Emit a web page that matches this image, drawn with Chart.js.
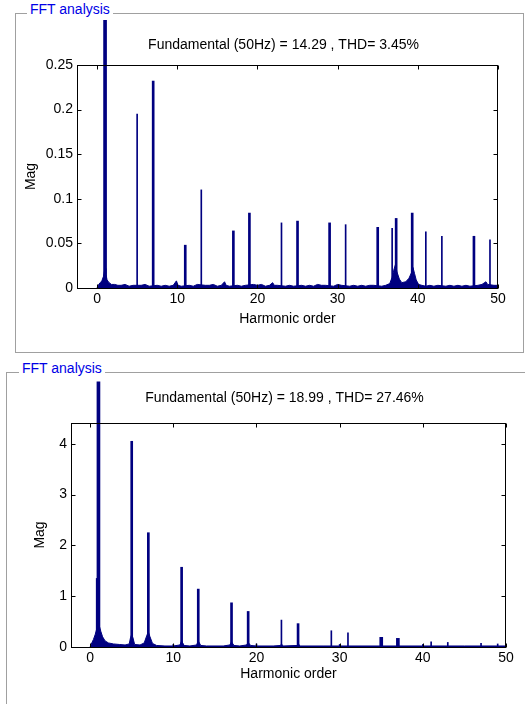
<!DOCTYPE html>
<html>
<head>
<meta charset="utf-8">
<script src="https://cdn.jsdelivr.net/npm/chart.js@4.4.0/dist/chart.umd.min.js"></script>
<style>
  html, body { margin: 0; padding: 0; background: #fff; width: 525px; height: 704px; overflow: hidden; position: relative; font-family: 'Liberation Sans', Arial, sans-serif; }
  .box { position: absolute; border: 1px solid #a0a0a0; box-sizing: border-box; }
  .lbl { position: absolute; background: #fff; color: #0000e6; font-size: 14px; line-height: 16px; padding: 0 3px; white-space: nowrap; }
  .wrap { position: absolute; }
</style>
</head>
<body>
<div class="box" style="left:15px;top:13px;width:509px;height:340px"></div>
<div class="lbl" style="left:27px;top:1px">FFT analysis</div>
<div class="box" style="left:6px;top:372px;width:600px;height:400px"></div>
<div class="lbl" style="left:19px;top:360px">FFT analysis</div>
<div class="wrap" style="left:16px;top:14px;width:505px;height:337px"><canvas id="c1"></canvas></div>
<div class="wrap" style="left:7px;top:373px;width:518px;height:331px"><canvas id="c2"></canvas></div>
<script>
  const NAVY = '#000080';
  const xTicks = [0, 10, 20, 30, 40, 50];

  // ---- upper panel (THD 3.45%) ----
  const title1 = 'Fundamental (50Hz) = 14.29 , THD= 3.45%';
  const yTicks1 = [0, 0.05, 0.1, 0.15, 0.2, 0.25];
  const fund1 = 0.30;
  const thickOrder1 = [7, 11, 17, 19, 25, 29, 35, 37.3, 39.3, 47];
  const thickMag1 = [0.232, 0.048, 0.064, 0.084, 0.075, 0.073, 0.068, 0.078, 0.084, 0.058];
  const thinOrder1 = [5, 13, 23, 31, 36.8, 41, 43, 49];
  const thinMag1 = [0.195, 0.110, 0.073, 0.071, 0.067, 0.063, 0.058, 0.054];
  const floorOrder1 = [0, 0.2, 0.4, 0.6, 0.8, 0.9, 1.0, 1.1, 1.25, 1.5, 1.8, 2.2, 2.6, 3.0, 3.5, 4.0, 4.5, 5.5, 6.0, 6.5,
    7.5, 8.0, 8.5, 9.0, 9.5, 9.9, 10.1, 10.5, 11.5, 12.0, 12.5, 13.5, 14.0, 14.5, 15.0, 15.5, 15.9, 16.1, 16.5,
    17.5, 18.0, 18.5, 19.5, 20.0, 20.5, 21.0, 21.5, 21.9, 22.1, 22.5, 23.5, 24.0, 24.5, 25.5, 26.0, 26.5, 27.0,
    27.5, 28.0, 28.5, 29.5, 30.0, 30.5, 31.5, 32.0, 32.5, 33.0, 33.5, 34.0, 34.5, 35.5, 36.0, 36.5, 36.8, 37.0,
    37.2, 37.4, 37.7, 38.0, 38.5, 38.9, 39.2, 39.4, 39.6, 39.8, 40.1, 40.5, 41.0, 41.5, 42.0, 42.5, 43.5, 44.0,
    44.5, 45.0, 45.5, 46.0, 46.5, 47.5, 48.0, 48.5, 48.7, 49.5, 50.0];
  const floorMag1 = [0, 0.004, 0.006, 0.008, 0.013, 0.018, 0.022, 0.016, 0.009, 0.006, 0.004, 0.004, 0.003, 0.003, 0.004, 0.002, 0.003, 0.003, 0.004, 0.002,
    0.003, 0.002, 0.003, 0.002, 0.003, 0.008, 0.003, 0.002, 0.003, 0.002, 0.004, 0.003, 0.003, 0.004, 0.002, 0.003, 0.007, 0.003, 0.002,
    0.003, 0.002, 0.003, 0.004, 0.003, 0.004, 0.002, 0.003, 0.006, 0.003, 0.003, 0.002, 0.003, 0.002, 0.003, 0.002, 0.003, 0.002,
    0.004, 0.003, 0.003, 0.002, 0.004, 0.003, 0.002, 0.003, 0.002, 0.003, 0.002, 0.003, 0.003, 0.002, 0.003, 0.005, 0.012, 0.020,
    0.026, 0.018, 0.010, 0.006, 0.007, 0.011, 0.017, 0.023, 0.016, 0.009, 0.004, 0.003, 0.002, 0.003, 0.002, 0.003, 0.002, 0.003,
    0.002, 0.003, 0.002, 0.003, 0.002, 0.003, 0.004, 0.007, 0.004, 0.003, 0.003];

  // ---- lower panel (THD 27.46%) ----
  const title2 = 'Fundamental (50Hz) = 18.99 , THD= 27.46%';
  const yTicks2 = [0, 1, 2, 3, 4];
  const fund2 = 5.22;
  const thickOrder2 = [0.85, 5, 7, 11, 13, 17, 19, 25];
  const thickMag2 = [1.35, 4.05, 2.25, 1.57, 1.14, 0.87, 0.70, 0.46];
  const thinOrder2 = [10, 20, 23, 29, 30, 31, 40, 41, 43, 47, 49];
  const thinMag2 = [0.05, 0.06, 0.53, 0.32, 0.05, 0.28, 0.05, 0.10, 0.09, 0.07, 0.06];
  const stubOrder2 = [35, 37];
  const stubMag2 = [0.19, 0.17];
  const floorOrder2 = [0, 0.2, 0.4, 0.6, 0.8, 0.95, 1.1, 1.3, 1.5, 1.8, 2.2, 2.8, 3.5, 4.2, 4.7, 4.85, 5.0, 5.15, 5.35, 6.0,
    6.5, 6.8, 7.0, 7.2, 7.5, 8.0, 9.0, 10.0, 10.8, 11.0, 11.3, 12.0, 12.8, 13.0, 13.3, 14.0, 16.0, 16.8, 17.0, 17.3,
    18.0, 18.8, 19.0, 19.3, 20.0, 22.0, 22.9, 23.0, 23.2, 24.9, 25.0, 25.2, 28.0, 31.0, 35.0, 40.0, 45.0, 50.0];
  const floorMag2 = [0, 0.08, 0.15, 0.24, 0.36, 0.46, 0.42, 0.30, 0.20, 0.12, 0.08, 0.06, 0.05, 0.04, 0.06, 0.18, 0.25, 0.18, 0.05, 0.04,
    0.08, 0.22, 0.30, 0.20, 0.07, 0.03, 0.02, 0.02, 0.04, 0.12, 0.03, 0.02, 0.04, 0.12, 0.03, 0.02, 0.02, 0.04, 0.10, 0.03,
    0.02, 0.04, 0.09, 0.03, 0.02, 0.02, 0.03, 0.06, 0.02, 0.03, 0.08, 0.02, 0.02, 0.02, 0.02, 0.02, 0.02, 0.02];

  function pairs(xs, ys) { return xs.map((x, i) => ({ x: x, y: ys[i] })); }

  // MATLAB-like box with inward ticks, plus the heading text
  const fftFrame = {
    id: 'fftFrame',
    afterDraw(chart, args, opts) {
      const ctx = chart.ctx, a = chart.chartArea, sx = chart.scales.x, sy = chart.scales.y;
      const L = Math.round(a.left) + 0.5, R = Math.round(a.right) - 0.5;
      const T = Math.round(a.top) + 0.5, B = Math.round(a.bottom) + 0.5;
      ctx.save();
      ctx.strokeStyle = '#000';
      ctx.lineWidth = 1;
      ctx.strokeRect(L, T, R - L, B - T);
      ctx.beginPath();
      sx.ticks.forEach(t => {
        const px = Math.round(sx.getPixelForValue(t.value)) + 0.5;
        ctx.moveTo(px, B); ctx.lineTo(px, B - 4);
        ctx.moveTo(px, T); ctx.lineTo(px, T + 4);
      });
      sy.ticks.forEach(t => {
        const py = Math.round(sy.getPixelForValue(t.value)) + 0.5;
        ctx.moveTo(L, py); ctx.lineTo(L + 4, py);
        ctx.moveTo(R, py); ctx.lineTo(R - 4, py);
      });
      ctx.stroke();
      ctx.fillStyle = '#000';
      ctx.font = "14px 'Liberation Sans', Arial, sans-serif";
      ctx.textAlign = 'center';
      ctx.textBaseline = 'middle';
      ctx.fillText(opts.text, (a.left + a.right) / 2 - 4, opts.y);
      ctx.restore();
    }
  };

  function makeChart(id, o) {
    const barBase = { backgroundColor: NAVY, borderWidth: 0, grouped: false };
    return new Chart(document.getElementById(id), {
      type: 'bar',
      data: {
        datasets: [
          { type: 'line', data: pairs(o.floorX, o.floorY), fill: 'origin', backgroundColor: NAVY, borderColor: NAVY,
            borderWidth: 1, pointRadius: 0, tension: 0 },
          Object.assign({ data: pairs(o.thinX, o.thinY), barThickness: 1 }, barBase),
          Object.assign({ data: pairs(o.thickX, o.thickY), barThickness: 2 }, barBase),
          Object.assign({ data: pairs(o.stubX || [], o.stubY || []), barThickness: 3 }, barBase),
          Object.assign({ data: [{ x: 1, y: o.fund }], barThickness: 3, clip: false }, barBase)
        ]
      },
      options: {
        responsive: true,
        maintainAspectRatio: false,
        animation: false,
        layout: { padding: o.pad },
        plugins: {
          legend: { display: false },
          tooltip: { enabled: false },
          fftFrame: { text: o.title, y: o.titleY }
        },
        scales: {
          x: {
            type: 'linear', min: o.xMin, max: 50, offset: false,
            grid: { display: false, drawTicks: false }, border: { display: false },
            afterBuildTicks: s => { s.ticks = xTicks.map(v => ({ value: v })); },
            afterFit: s => { s.height = o.xH; },
            ticks: { padding: 3, color: '#000', font: { size: 14 }, maxRotation: 0, autoSkip: false, callback: v => String(v) },
            title: { display: true, text: 'Harmonic order', color: '#000', font: { size: 14 }, padding: { top: 4, bottom: 4 } }
          },
          y: {
            min: 0, max: o.yMax,
            grid: { display: false, drawTicks: false }, border: { display: false },
            afterBuildTicks: s => { s.ticks = o.yTicks.map(v => ({ value: v })); },
            afterFit: s => { s.width = o.yW; },
            ticks: { padding: 4, color: '#000', font: { size: 14 }, autoSkip: false, callback: v => String(v) },
            title: { display: true, text: 'Mag', color: '#000', font: { size: 14 }, padding: { top: 4, bottom: 4 } }
          }
        }
      },
      plugins: [fftFrame]
    });
  }

  Chart.defaults.font.family = "'Liberation Sans', Arial, sans-serif";

  makeChart('c1', {
    title: title1, titleY: 31, fund: fund1,
    thickX: thickOrder1, thickY: thickMag1, thinX: thinOrder1, thinY: thinMag1,
    floorX: floorOrder1, floorY: floorMag1,
    xMin: -2.5, yMax: 0.25, yTicks: yTicks1,
    pad: { left: 3, right: 23, top: 51, bottom: 19 }, yW: 58, xH: 44
  });
  makeChart('c2', {
    title: title2, titleY: 25, fund: fund2,
    thickX: thickOrder2, thickY: thickMag2, thinX: thinOrder2, thinY: thinMag2,
    stubX: stubOrder2, stubY: stubMag2,
    floorX: floorOrder2, floorY: floorMag2,
    xMin: -2.3, yMax: 4.41, yTicks: yTicks2,
    pad: { left: 21, right: 19, top: 50, bottom: 17 }, yW: 43, xH: 40
  });
</script>
</body>
</html>
